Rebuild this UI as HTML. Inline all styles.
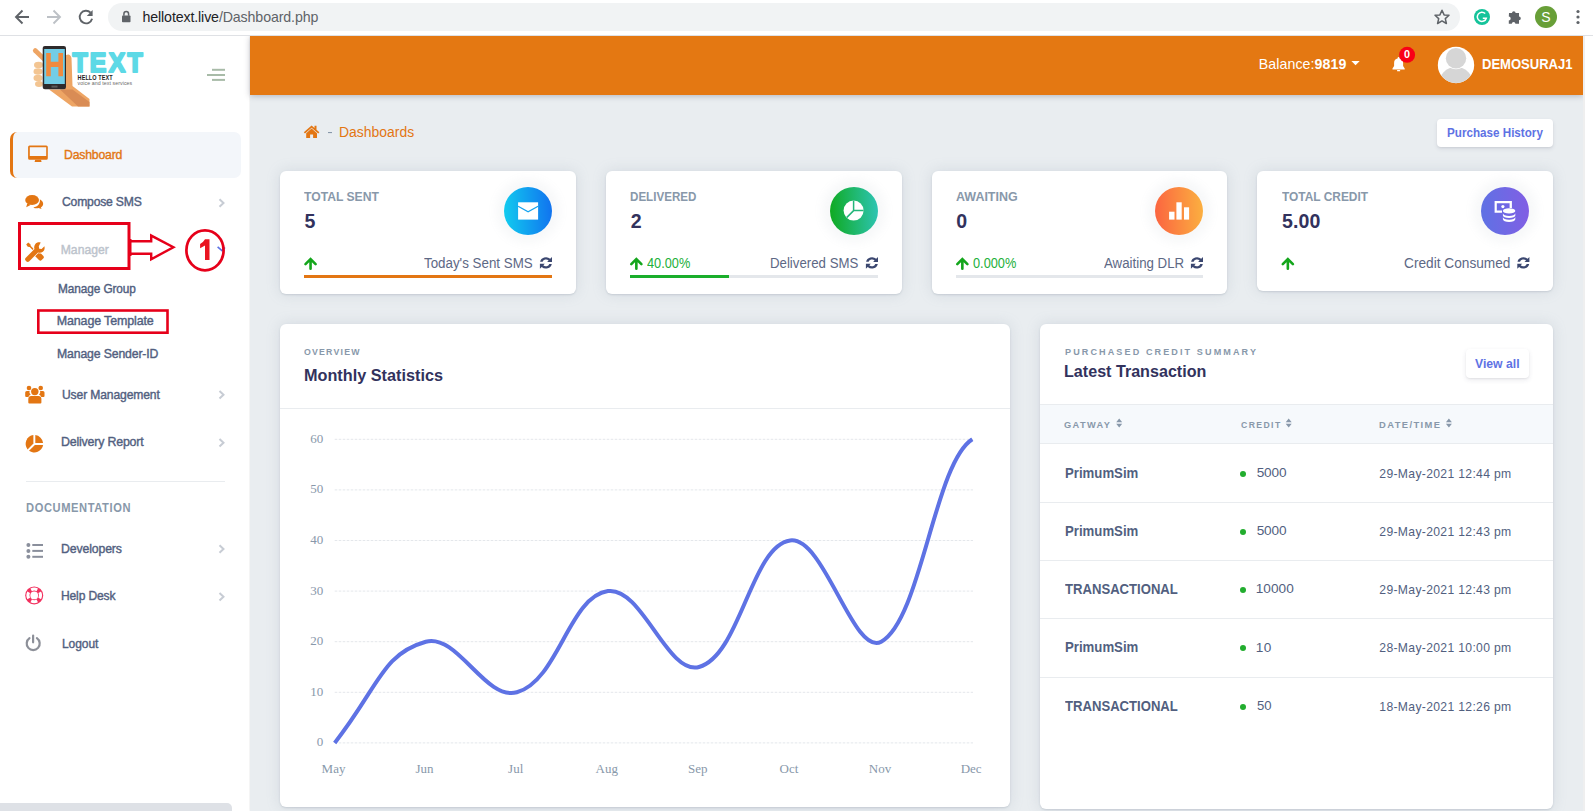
<!DOCTYPE html>
<html><head><meta charset="utf-8">
<style>
html,body{margin:0;padding:0;width:1593px;height:811px;overflow:hidden;background:#fff;}
body{position:relative;font-family:"Liberation Sans",sans-serif;}
.a{position:absolute;}
.tx{position:absolute;white-space:nowrap;font-family:"Liberation Sans",sans-serif;}
.sf{font-family:"Liberation Serif",serif;}
.card{position:absolute;background:#fff;border-radius:6px;box-shadow:0 0 14px rgba(136,152,170,.22),0 1px 2px rgba(80,90,110,.18);}
.icirc{position:absolute;width:48px;height:48px;border-radius:50%;box-shadow:0 0 10px 8px rgba(136,152,170,.07);}
.bar{position:absolute;height:3px;background:#e4e7eb;}
.rline{position:absolute;left:1040px;width:513px;height:1px;background:#e9ecef;}
.dot{position:absolute;width:6px;height:6px;border-radius:50%;background:#22ad2e;}
</style></head><body>
<!-- chrome toolbar -->
<div class="a" style="left:0;top:0;width:1593px;height:36px;z-index:10;">
<div class="a" style="left:0;top:0;width:1593px;height:35px;background:#fff;"></div>
<div class="a" style="left:0;top:35px;width:1593px;height:1px;background:#dfe1e5;"></div>
<div class="a" style="left:108px;top:3px;width:1352px;height:28px;border-radius:14px;background:#f1f3f4;"></div>
<svg class="a" style="left:0;top:0" width="1593" height="35">
  <g fill="none" stroke="#5f6368" stroke-width="1.9" stroke-linecap="butt">
    <path d="M29,17 H16.5 M22.5,10.5 L16,17 L22.5,23.5"/>
  </g>
  <g fill="none" stroke="#bdc1c6" stroke-width="1.9">
    <path d="M47,17 H59.5 M53.5,10.5 L60,17 L53.5,23.5"/>
  </g>
  <path d="M90.6,12.7 A6.3,6.3 0 1 0 92.1,18.7" fill="none" stroke="#5f6368" stroke-width="1.9"/>
  <path d="M92.6,10 V15.9 H86.8 Z" fill="#5f6368"/>
  <rect x="122" y="15.5" width="8.5" height="6.8" rx="0.8" fill="#5f6368"/>
  <path d="M123.9,15.8 V13.9 A2.35,2.35 0 0 1 128.6,13.9 V15.8" fill="none" stroke="#5f6368" stroke-width="1.5"/>
  <path d="M1442,10.3 L1444.1,14.9 L1449,15.3 L1445.3,18.6 L1446.4,23.5 L1442,20.9 L1437.6,23.5 L1438.7,18.6 L1435,15.3 L1439.9,14.9 Z" fill="none" stroke="#5f6368" stroke-width="1.5" stroke-linejoin="round"/>
  <circle cx="1482" cy="17" r="8" fill="#15c39a"/>
  <path d="M1485.2,13.6 A4.6,4.6 0 1 0 1486.3,18.2 H1482.8" fill="none" stroke="#fff" stroke-width="1.5"/>
  <path d="M1509,13 h3 a1.8,1.8 0 0 1 3.6,0 h3.4 v3.6 a1.8,1.8 0 0 1 0,3.6 v3.6 h-3.6 a1.8,1.8 0 0 0 -3.6,0 h-3 v-3.4 a1.8,1.8 0 0 0 0,-3.8 z" fill="#5f6368"/>
  <circle cx="1546" cy="17" r="11" fill="#689f38"/>
  <text x="1546" y="22" text-anchor="middle" font-family="Liberation Sans" font-size="14" fill="#fff">S</text>
  <circle cx="1578" cy="11.5" r="1.6" fill="#5f6368"/><circle cx="1578" cy="17" r="1.6" fill="#5f6368"/><circle cx="1578" cy="22.5" r="1.6" fill="#5f6368"/>
</svg>
<span class="tx" style="left:142.5px;top:8.8px;font-size:14.2px;line-height:16px;letter-spacing:-0.12px;color:#202124">hellotext.live<span style="color:#5f6368">/Dashboard.php</span></span>
</div>

<!-- sidebar -->
<div class="a" style="left:0;top:36px;width:249px;height:775px;background:#fff;box-shadow:1px 0 2px rgba(0,0,0,.06);"></div>
<svg class="a" style="left:0;top:36px" width="249" height="80" viewBox="0 36 249 80">
  <path d="M35.2,50.5 L44,59" stroke="#eea564" stroke-width="4.6" stroke-linecap="round"/>
  <path d="M64,56 Q70,52 71.5,58 L72.5,86 L89.5,99 L89.5,106.5 L72,106.5 L49,89.5 L64,89.5 Z" fill="#eea564"/>
  <path d="M60,89.5 L72.5,89.5 L89.5,102 L89.5,106.5 L78,106.5 Z" fill="#d98c55"/>
  <g fill="#f3c592"><ellipse cx="38.5" cy="65" rx="4.5" ry="3.2"/><ellipse cx="38" cy="71.5" rx="4.5" ry="3.2"/><ellipse cx="38" cy="78" rx="4.5" ry="3.2"/><ellipse cx="39" cy="84" rx="4" ry="3"/></g>
  <rect x="42.7" y="45.9" width="23.3" height="43.3" rx="2.2" fill="#2e2a2b"/>
  <rect x="44.2" y="49" width="20.6" height="35" fill="#73cde6"/>
  <path d="M46.2,53 H50.8 V61.8 H58.4 V53 H63 V76.2 H58.4 V67 H50.8 V76.2 H46.2 Z" fill="#f08a3e"/>
  <rect x="51.5" y="85.6" width="6" height="2" fill="#5a5a5a"/>
  <text x="72.5" y="72.1" font-family="Liberation Sans" font-weight="bold" font-size="27.5" letter-spacing="2.6" fill="#5dd9e6" stroke="#5dd9e6" stroke-width="2.2" stroke-linejoin="round" transform="translate(71.6,0) scale(0.9,1) translate(-71.6,0)">TEXT</text>
  <text x="77.6" y="80" font-family="Liberation Sans" font-weight="bold" font-size="6.5" letter-spacing="0.1" fill="#1d1d1d" transform="translate(77.6,0) scale(0.85,1) translate(-77.6,0)">HELLO TEXT</text>
  <text x="77.6" y="85.2" font-family="Liberation Sans" font-size="5.8" letter-spacing="0.1" fill="#6a6a6a" transform="translate(77.6,0) scale(0.9,1) translate(-77.6,0)">voice and text services</text>
</svg>
<svg class="a" style="left:200px;top:60px" width="32" height="30">
  <g fill="#a8bba8"><rect x="12" y="8.8" width="13" height="2"/><rect x="7" y="14" width="18" height="2"/><rect x="12" y="18.9" width="13" height="2"/></g>
</svg>
<div class="a" style="left:10px;top:132px;width:231px;height:46px;background:#f3f6fa;border-radius:7px;"></div>
<div class="a" style="left:10px;top:132px;width:8px;height:46px;border-left:3px solid #e37613;border-radius:7px 0 0 7px;box-sizing:border-box;"></div>
<svg class="a" style="left:0;top:0" width="249" height="811"><g fill="#e37613"><path d="M28.1,147.1 a1.5,1.5 0 0 1 1.5,-1.5 h16.7 a1.5,1.5 0 0 1 1.5,1.5 v11.2 a1.5,1.5 0 0 1 -1.5,1.5 h-16.7 a1.5,1.5 0 0 1 -1.5,-1.5 z M29.8,147.3 v8.6 h16.4 v-8.6 z" fill-rule="evenodd"/><path d="M35.2,159.8 h5.8 l0.6,2.1 h-7 z"/></g><g fill="#e37613"><ellipse cx="32.1" cy="200" rx="6.9" ry="5.1"/><path d="M27.2,203.5 L26.2,207.2 L31,204.8 Z"/><path d="M39.8,199.3 C42.5,200.8 43.5,202.8 43.1,204.6 C42.8,206 41.9,207 40.8,207.6 L41.6,208.9 L38.5,208 C36.8,208.5 34.7,208.3 33.3,207.4 C37.8,206.8 40.6,203.6 39.8,199.3 Z"/></g><g fill="#e37613">
      <path d="M26.2,244.6 L28.2,242.6 L30.4,244.2 L30.8,246 L37.5,252.7 L36.4,253.8 L29.7,247.1 L27.8,246.8 Z"/>
      <path d="M35.8,253.2 L38.2,250.8 L43.2,255.8 A1.9,1.9 0 0 1 43.2,258.5 L41.7,260 A1.9,1.9 0 0 1 39,260 L34,255 Z"/>
      <path d="M40.7,242.6 C38.6,242 36.5,242.6 35.2,244.2 C34.1,245.6 33.9,247.4 34.5,249 L25.8,257.7 A2.2,2.2 0 0 0 25.8,260.8 L26.2,261.2 A2.2,2.2 0 0 0 29.3,261.2 L38,252.5 C39.6,253.1 41.4,252.9 42.8,251.8 C44.4,250.5 45,248.4 44.4,246.3 L41.6,249.1 L39.2,248.7 L38.8,246.3 Z" stroke="#fff" stroke-width="1.3" paint-order="stroke"/>
    </g><g fill="#e37613">
      <circle cx="34.8" cy="391.6" r="3.7"/>
      <path d="M28.3,399 a3,3 0 0 1 3,-3 h7.1 a3,3 0 0 1 3,3 v3.5 a1,1 0 0 1 -1,1 h-11.1 a1,1 0 0 1 -1,-1 z"/>
      <circle cx="29" cy="388" r="2.3"/><circle cx="40.7" cy="388" r="2.3"/>
      <path d="M25.2,392.6 a1.6,1.6 0 0 1 1.6,-1.6 h2.8 a3.2,3.2 0 0 0 1.1,3.6 a4.4,4.4 0 0 0 -2.3,2.4 h-2.2 a1,1 0 0 1 -1,-1 z"/>
      <path d="M44.5,392.6 a1.6,1.6 0 0 0 -1.6,-1.6 h-2.8 a3.2,3.2 0 0 1 -1.1,3.6 a4.4,4.4 0 0 1 2.3,2.4 h2.2 a1,1 0 0 0 1,-1 z"/>
    </g><g fill="#e37613">
      <path d="M33.4,435.1 V443.6 L27.6,449.4 A8.9,8.9 0 0 1 33.4,435.1 Z"/>
      <path d="M35.3,435.1 A8.9,8.9 0 0 1 43.1,442.9 H35.3 Z"/>
      <path d="M43.1,444.9 A8.9,8.9 0 0 1 29,450.8 L34.9,444.9 Z"/>
    </g><g fill="#8a8f9c"><circle cx="28.4" cy="545" r="2"/><circle cx="28.4" cy="550.9" r="2"/><circle cx="28.4" cy="556.8" r="2"/><rect x="32.3" y="544" width="10.7" height="2"/><rect x="32.3" y="549.9" width="10.7" height="2"/><rect x="32.3" y="555.8" width="10.7" height="2"/></g><circle cx="34.2" cy="595.4" r="9" fill="#f2305e"/><circle cx="34.2" cy="595.4" r="3.9" fill="#fff"/><path d="M41.02,591.62 A7.8,7.8 0 0 1 41.02,599.18 L38.40,597.73 A4.8,4.8 0 0 0 38.40,593.07 Z M37.98,602.22 A7.8,7.8 0 0 1 30.42,602.22 L31.87,599.60 A4.8,4.8 0 0 0 36.53,599.60 Z M27.38,599.18 A7.8,7.8 0 0 1 27.38,591.62 L30.00,593.07 A4.8,4.8 0 0 0 30.00,597.73 Z M30.42,588.58 A7.8,7.8 0 0 1 37.98,588.58 L36.53,591.20 A4.8,4.8 0 0 0 31.87,591.20 Z" fill="#fff"/><g transform="translate(0.6,0)"><path d="M28.9,638.2 A6.5,6.5 0 1 0 36.3,638.2" fill="none" stroke="#8d9099" stroke-width="2.2" stroke-linecap="round"/><line x1="32.5" y1="635.5" x2="32.5" y2="642.3" stroke="#8d9099" stroke-width="2.2" stroke-linecap="round"/></g><path d="M219.5,199.2 L223.5,203 L219.5,206.8" fill="none" stroke="#c7ccd4" stroke-width="2"/><path d="M219.5,390.9 L223.5,394.7 L219.5,398.5" fill="none" stroke="#c7ccd4" stroke-width="2"/><path d="M219.5,438.9 L223.5,442.7 L219.5,446.5" fill="none" stroke="#c7ccd4" stroke-width="2"/><path d="M219.5,545.2 L223.5,549 L219.5,552.8" fill="none" stroke="#c7ccd4" stroke-width="2"/><path d="M219.5,592.9000000000001 L223.5,596.7 L219.5,600.5" fill="none" stroke="#c7ccd4" stroke-width="2"/><path d="M217.6,246.8 L222,250.6 L225,247.5" fill="none" stroke="#5e72e4" stroke-width="1.6"/></svg>
<div class="a" style="left:26px;top:481px;width:199px;height:1px;background:#e9ecef;"></div>

<!-- header -->
<div class="a" style="left:250px;top:36px;width:1333px;height:775px;background:#e9edf0;"></div>

<div class="a" style="left:250px;top:36px;width:1333px;height:59px;background:#e47812;box-shadow:0 1px 6px rgba(40,40,60,.28);"></div>
<!-- main bg -->

<div class="a" style="left:1583px;top:36px;width:10px;height:775px;background:#fff;border-left:2px solid #efefef;box-sizing:border-box;"></div>
<svg class="a" style="left:0;top:0" width="1593" height="100"><path d="M1351.4,61 H1359.7 L1355.55,65.3 Z" fill="#fff"/><path d="M1398.6,57 a1,1 0 0 1 1,1 v0.6 a4.3,4.3 0 0 1 3.5,4.3 v3.2 l1.6,2.3 v1 h-12.2 v-1 l1.6,-2.3 v-3.2 a4.3,4.3 0 0 1 3.5,-4.3 v-0.6 a1,1 0 0 1 1,-1 z" fill="#fff"/><rect x="1397" y="70" width="3.2" height="1.3" rx="0.6" fill="#fff"/><circle cx="1407.1" cy="54.8" r="8" fill="#f90016"/><text x="1407.1" y="58.1" text-anchor="middle" font-family="Liberation Sans" font-weight="bold" font-size="10.8" fill="#fff">0</text><defs><clipPath id="av"><circle cx="1456" cy="65" r="18"/></clipPath></defs><circle cx="1456" cy="65" r="18.2" fill="#fff"/><g clip-path="url(#av)"><ellipse cx="1456" cy="84.5" rx="17.5" ry="17.5" fill="#d6d6d6"/><circle cx="1456" cy="58.2" r="10.2" fill="#d6d6d6" stroke="#fff" stroke-width="1.6" paint-order="stroke"/></g></svg>
<svg class="a" style="left:300px;top:120px" width="40" height="22">
  <path d="M11.6,5.5 L3.8,12.3 L5,13.6 L11.6,7.8 L18.2,13.6 L19.4,12.3 L16.5,9.8 V5.8 H14.5 V8 Z" fill="#e37613"/>
  <path d="M6.2,13.3 L11.6,8.6 L17,13.3 V18 H13.1 V14.6 H10.1 V18 H6.2 Z" fill="#e37613"/>
  <rect x="28" y="12" width="4" height="1.1" fill="#8898aa"/>
</svg>

<!-- cards -->
<div class="card" style="left:280px;top:171px;width:296px;height:123px;"></div>
<div class="card" style="left:606px;top:171px;width:296px;height:123px;"></div>
<div class="card" style="left:932px;top:171px;width:295px;height:123px;"></div>
<div class="card" style="left:1257px;top:171px;width:296px;height:120px;"></div>
<div class="a" style="left:1437px;top:119px;width:116px;height:28px;background:#fff;border-radius:4px;box-shadow:0 2px 4px rgba(50,50,93,.1),0 1px 2px rgba(0,0,0,.06);"></div>

<div class="icirc" style="left:504px;top:187px;background:linear-gradient(87deg,#11cdef 0,#1171ef 100%);"></div>
<div class="icirc" style="left:830px;top:187px;background:linear-gradient(87deg,#0fa91e 0,#2ec5b6 100%);"></div>
<div class="icirc" style="left:1155px;top:187px;background:linear-gradient(87deg,#fb6340 0,#fbb140 100%);"></div>
<div class="icirc" style="left:1481px;top:187px;background:linear-gradient(87deg,#5e72e4 0,#825ee4 100%);"></div>

<div class="bar" style="left:304px;top:275px;width:248px;background:#e37613"></div>
<div class="bar" style="left:630px;top:275px;width:248px;"></div>
<div class="bar" style="left:630px;top:275px;width:99px;background:#1aae2b"></div>
<div class="bar" style="left:956px;top:275px;width:247px;"></div>
<svg class="a" style="left:0;top:0" width="1593" height="300"><rect x="518.1" y="202.3" width="20" height="17.3" fill="#fff"/><path d="M518.1,206.3 L528.1,211.8 L538.1,206.3" fill="none" stroke="#15a3ef" stroke-width="1.3"/><circle cx="853.6" cy="210.6" r="10" fill="#fff"/><path d="M853.6,200.6 V210.6 H863.6 M853.6,210.6 L846.6,217.6" fill="none" stroke="#23b67a" stroke-width="1.5"/><g fill="#fff"><rect x="1169.1" y="211.7" width="5.4" height="7.9"/><rect x="1176.4" y="202.3" width="5.3" height="17.3"/><rect x="1184" y="207.3" width="5.1" height="12.3"/></g><path d="M1494.6,201.1 H1511.9 V208 H1509.6 V203.3 H1496.8 V210.5 H1502 V212.7 H1494.6 Z" fill="#fff"/><circle cx="1502.9" cy="206.6" r="1.6" fill="#fff"/><g fill="#fff"><ellipse cx="1509.1" cy="210.9" rx="6.2" ry="2.6"/><path d="M1502.9,213.3 a6.2,2.6 0 0 0 12.4,0 v2.2 a6.2,2.6 0 0 1 -12.4,0 z"/><path d="M1502.9,217.1 a6.2,2.6 0 0 0 12.4,0 v2.2 a6.2,2.6 0 0 1 -12.4,0 z"/></g><path d="M305.5,264.2 L310.55,259.1 L315.59999999999997,264.2 M310.55,259.3 V268.8" fill="none" stroke="#14a61c" stroke-width="2.6" stroke-linecap="round" stroke-linejoin="miter"/><path d="M631.3,264.2 L636.35,259.1 L641.4,264.2 M636.35,259.3 V268.8" fill="none" stroke="#14a61c" stroke-width="2.6" stroke-linecap="round" stroke-linejoin="miter"/><path d="M957.3,264.2 L962.35,259.1 L967.4,264.2 M962.35,259.3 V268.8" fill="none" stroke="#14a61c" stroke-width="2.6" stroke-linecap="round" stroke-linejoin="miter"/><path d="M1282.8,264.2 L1287.85,259.1 L1292.9,264.2 M1287.85,259.3 V268.8" fill="none" stroke="#14a61c" stroke-width="2.6" stroke-linecap="round" stroke-linejoin="miter"/><g transform="translate(539.9,256.9)" fill="#3b4770"><path d="M0.2,4.9 A6,5.6 0 0 1 10.3,1.9 L12.1,0.1 V5 H7.2 L8.7,3.5 A3.6,3.4 0 0 0 2.7,4.9 Z"/><path d="M0.2,4.9 A6,5.6 0 0 1 10.3,1.9 L12.1,0.1 V5 H7.2 L8.7,3.5 A3.6,3.4 0 0 0 2.7,4.9 Z" transform="rotate(180 6.05 5.95)"/></g><g transform="translate(865.9,256.9)" fill="#3b4770"><path d="M0.2,4.9 A6,5.6 0 0 1 10.3,1.9 L12.1,0.1 V5 H7.2 L8.7,3.5 A3.6,3.4 0 0 0 2.7,4.9 Z"/><path d="M0.2,4.9 A6,5.6 0 0 1 10.3,1.9 L12.1,0.1 V5 H7.2 L8.7,3.5 A3.6,3.4 0 0 0 2.7,4.9 Z" transform="rotate(180 6.05 5.95)"/></g><g transform="translate(1190.9,256.9)" fill="#3b4770"><path d="M0.2,4.9 A6,5.6 0 0 1 10.3,1.9 L12.1,0.1 V5 H7.2 L8.7,3.5 A3.6,3.4 0 0 0 2.7,4.9 Z"/><path d="M0.2,4.9 A6,5.6 0 0 1 10.3,1.9 L12.1,0.1 V5 H7.2 L8.7,3.5 A3.6,3.4 0 0 0 2.7,4.9 Z" transform="rotate(180 6.05 5.95)"/></g><g transform="translate(1517.3000000000002,256.9)" fill="#3b4770"><path d="M0.2,4.9 A6,5.6 0 0 1 10.3,1.9 L12.1,0.1 V5 H7.2 L8.7,3.5 A3.6,3.4 0 0 0 2.7,4.9 Z"/><path d="M0.2,4.9 A6,5.6 0 0 1 10.3,1.9 L12.1,0.1 V5 H7.2 L8.7,3.5 A3.6,3.4 0 0 0 2.7,4.9 Z" transform="rotate(180 6.05 5.95)"/></g></svg>

<!-- chart card -->
<div class="card" style="left:280px;top:324px;width:730px;height:483px;"></div>
<div class="a" style="left:280px;top:408px;width:730px;height:1px;background:#e9ecef;"></div>
<svg class="a" style="left:0;top:0" width="1593" height="811">
<line x1="334.7" y1="742.9" x2="973" y2="742.9" stroke="#e4e7eb" stroke-width="1" stroke-dasharray="2.6,1.4"/>
<text x="323.3" y="746.3" text-anchor="end" font-family="Liberation Serif" font-size="13" fill="#8898aa">0</text>
<line x1="334.7" y1="692.3" x2="973" y2="692.3" stroke="#e4e7eb" stroke-width="1" stroke-dasharray="2.6,1.4"/>
<text x="323.3" y="695.7" text-anchor="end" font-family="Liberation Serif" font-size="13" fill="#8898aa">10</text>
<line x1="334.7" y1="641.7" x2="973" y2="641.7" stroke="#e4e7eb" stroke-width="1" stroke-dasharray="2.6,1.4"/>
<text x="323.3" y="645.1" text-anchor="end" font-family="Liberation Serif" font-size="13" fill="#8898aa">20</text>
<line x1="334.7" y1="591.1" x2="973" y2="591.1" stroke="#e4e7eb" stroke-width="1" stroke-dasharray="2.6,1.4"/>
<text x="323.3" y="594.5" text-anchor="end" font-family="Liberation Serif" font-size="13" fill="#8898aa">30</text>
<line x1="334.7" y1="540.5" x2="973" y2="540.5" stroke="#e4e7eb" stroke-width="1" stroke-dasharray="2.6,1.4"/>
<text x="323.3" y="543.9" text-anchor="end" font-family="Liberation Serif" font-size="13" fill="#8898aa">40</text>
<line x1="334.7" y1="489.9" x2="973" y2="489.9" stroke="#e4e7eb" stroke-width="1" stroke-dasharray="2.6,1.4"/>
<text x="323.3" y="493.3" text-anchor="end" font-family="Liberation Serif" font-size="13" fill="#8898aa">50</text>
<line x1="334.7" y1="439.3" x2="973" y2="439.3" stroke="#e4e7eb" stroke-width="1" stroke-dasharray="2.6,1.4"/>
<text x="323.3" y="442.7" text-anchor="end" font-family="Liberation Serif" font-size="13" fill="#8898aa">60</text>
<text x="333.5" y="773" text-anchor="middle" font-family="Liberation Serif" font-size="13" fill="#8898aa">May</text>
<text x="424.6" y="773" text-anchor="middle" font-family="Liberation Serif" font-size="13" fill="#8898aa">Jun</text>
<text x="515.7" y="773" text-anchor="middle" font-family="Liberation Serif" font-size="13" fill="#8898aa">Jul</text>
<text x="606.8" y="773" text-anchor="middle" font-family="Liberation Serif" font-size="13" fill="#8898aa">Aug</text>
<text x="697.8" y="773" text-anchor="middle" font-family="Liberation Serif" font-size="13" fill="#8898aa">Sep</text>
<text x="788.9" y="773" text-anchor="middle" font-family="Liberation Serif" font-size="13" fill="#8898aa">Oct</text>
<text x="880.0" y="773" text-anchor="middle" font-family="Liberation Serif" font-size="13" fill="#8898aa">Nov</text>
<text x="971.1" y="773" text-anchor="middle" font-family="Liberation Serif" font-size="13" fill="#8898aa">Dec</text>
<defs><clipPath id="ca"><rect x="332.7" y="437.3" width="641.6" height="307.6"/></clipPath></defs>
<path d="M334.70,742.90 C378.70,686.90 382.07,653.84 425.79,641.70 C457.38,632.93 485.28,701.07 516.87,692.30 C558.15,680.83 569.01,596.51 607.96,591.10 C641.88,586.39 667.56,675.74 699.04,667.00 C740.43,655.50 751.23,545.90 790.13,540.50 C824.10,535.78 853.51,657.09 881.21,641.70 C921.28,619.44 934.30,463.30 972.30,439.30" fill="none" stroke="#5e72e4" stroke-width="4" stroke-linecap="butt" stroke-linejoin="round" clip-path="url(#ca)"/>
</svg>

<!-- transaction card -->
<div class="card" style="left:1040px;top:324px;width:513px;height:485px;"></div>
<div class="a" style="left:1466px;top:349px;width:63px;height:29px;background:#fff;border-radius:4px;box-shadow:0 2px 5px rgba(50,50,93,.1),0 1px 2px rgba(0,0,0,.06);"></div>
<div class="a" style="left:1040px;top:404px;width:513px;height:40px;background:#f6f9fc;border-top:1px solid #e9ecef;border-bottom:1px solid #e9ecef;box-sizing:border-box;"></div>
<div class="rline" style="top:502px"></div>
<div class="rline" style="top:560px"></div>
<div class="rline" style="top:618px"></div>
<div class="rline" style="top:677px"></div>
<div class="dot" style="left:1240px;top:471px"></div>
<div class="dot" style="left:1240px;top:529px"></div>
<div class="dot" style="left:1240px;top:587px"></div>
<div class="dot" style="left:1240px;top:645px"></div>
<div class="dot" style="left:1240px;top:704px"></div>
<svg class="a" style="left:0;top:0" width="1593" height="460"><path d="M1116.2,422.3 L1119.2,418.6 L1122.2,422.3 Z M1116.2,423.8 L1119.2,427.6 L1122.2,423.8 Z" fill="#8898aa"/><path d="M1285.7,422.3 L1288.7,418.6 L1291.7,422.3 Z M1285.7,423.8 L1288.7,427.6 L1291.7,423.8 Z" fill="#8898aa"/><path d="M1445.9,422.3 L1448.9,418.6 L1451.9,422.3 Z M1445.9,423.8 L1448.9,427.6 L1451.9,423.8 Z" fill="#8898aa"/></svg>

<span class="tx" style="left:63.74px;top:148.77px;font-size:12.75px;line-height:12.75px;letter-spacing:-0.207px;font-weight:normal;color:#e37613;-webkit-text-stroke:0.4px #e37613;transform:scaleX(0.9610);transform-origin:0 0;">Dashboard</span>
<span class="tx" style="left:61.70px;top:196.13px;font-size:12.61px;line-height:12.61px;letter-spacing:-0.207px;font-weight:normal;color:#525f7f;-webkit-text-stroke:0.4px #525f7f;transform:scaleX(0.9645);transform-origin:0 0;">Compose SMS</span>
<span class="tx" style="left:60.70px;top:244.25px;font-size:12.17px;line-height:12.17px;letter-spacing:0.028px;font-weight:normal;color:#bcc3cc;-webkit-text-stroke:0.4px #bcc3cc;">Manager</span>
<span class="tx" style="left:57.80px;top:282.68px;font-size:12.03px;line-height:12.03px;letter-spacing:-0.084px;font-weight:normal;color:#525f7f;-webkit-text-stroke:0.4px #525f7f;transform:scaleX(0.9831);transform-origin:0 0;">Manage Group</span>
<span class="tx" style="left:56.80px;top:315.11px;font-size:12.46px;line-height:12.46px;letter-spacing:-0.133px;font-weight:normal;color:#525f7f;-webkit-text-stroke:0.4px #525f7f;">Manage Template</span>
<span class="tx" style="left:56.83px;top:348.32px;font-size:12.61px;line-height:12.61px;letter-spacing:-0.140px;font-weight:normal;color:#525f7f;-webkit-text-stroke:0.4px #525f7f;transform:scaleX(0.9709);transform-origin:0 0;">Manage Sender-ID</span>
<span class="tx" style="left:62.00px;top:388.73px;font-size:12.46px;line-height:12.46px;letter-spacing:-0.137px;font-weight:normal;color:#525f7f;-webkit-text-stroke:0.4px #525f7f;transform:scaleX(0.9727);transform-origin:0 0;">User Management</span>
<span class="tx" style="left:61.05px;top:434.81px;font-size:13.04px;line-height:13.04px;letter-spacing:-0.212px;font-weight:normal;color:#525f7f;-webkit-text-stroke:0.4px #525f7f;transform:scaleX(0.9524);transform-origin:0 0;">Delivery Report</span>
<span class="tx" style="left:26.00px;top:501.77px;font-size:12.75px;line-height:12.75px;letter-spacing:0.687px;font-weight:bold;color:#8898aa;transform:scaleX(0.8730);transform-origin:0 0;">DOCUMENTATION</span>
<span class="tx" style="left:61.03px;top:542.94px;font-size:12.61px;line-height:12.61px;letter-spacing:-0.128px;font-weight:normal;color:#525f7f;-webkit-text-stroke:0.4px #525f7f;transform:scaleX(0.9730);transform-origin:0 0;">Developers</span>
<span class="tx" style="left:61.03px;top:590.30px;font-size:12.46px;line-height:12.46px;letter-spacing:-0.156px;font-weight:normal;color:#525f7f;-webkit-text-stroke:0.4px #525f7f;transform:scaleX(0.9684);transform-origin:0 0;">Help Desk</span>
<span class="tx" style="left:62.00px;top:638.04px;font-size:12.03px;line-height:12.03px;letter-spacing:-0.083px;font-weight:normal;color:#525f7f;-webkit-text-stroke:0.4px #525f7f;">Logout</span>
<span class="tx" style="left:1258.80px;top:56.73px;font-size:14.20px;line-height:14.20px;letter-spacing:0.061px;font-weight:normal;color:#fff;">Balance:</span>
<span class="tx" style="left:1314.60px;top:56.73px;font-size:14.20px;line-height:14.20px;letter-spacing:0.110px;font-weight:bold;color:#fff;">9819</span>
<span class="tx" style="left:1482.00px;top:57.20px;font-size:14.49px;line-height:14.49px;letter-spacing:0.000px;font-weight:bold;color:#fff;transform:scaleX(0.8991);transform-origin:0 0;">DEMOSURAJ1</span>
<span class="tx" style="left:339.38px;top:123.99px;font-size:15.07px;line-height:15.07px;letter-spacing:0.000px;font-weight:normal;color:#e37613;transform:scaleX(0.9249);transform-origin:0 0;">Dashboards</span>
<span class="tx" style="left:1446.50px;top:127.39px;font-size:12.75px;line-height:12.75px;letter-spacing:0.000px;font-weight:bold;color:#5e72e4;transform:scaleX(0.9141);transform-origin:0 0;">Purchase History</span>
<span class="tx" style="left:304.00px;top:189.89px;font-size:13.19px;line-height:13.19px;letter-spacing:0.000px;font-weight:bold;color:#8898aa;transform:scaleX(0.9211);transform-origin:0 0;">TOTAL SENT</span>
<span class="tx" style="left:304.50px;top:212.35px;font-size:19.57px;line-height:19.57px;letter-spacing:0.000px;font-weight:bold;color:#32325d;">5</span>
<span class="tx" style="left:424.10px;top:256.27px;font-size:14.93px;line-height:14.93px;letter-spacing:0.000px;font-weight:normal;color:#5d6885;transform:scaleX(0.8947);transform-origin:0 0;">Today's Sent SMS</span>
<span class="tx" style="left:630.20px;top:189.89px;font-size:13.19px;line-height:13.19px;letter-spacing:0.000px;font-weight:bold;color:#8898aa;transform:scaleX(0.8802);transform-origin:0 0;">DELIVERED</span>
<span class="tx" style="left:630.70px;top:212.35px;font-size:19.57px;line-height:19.57px;letter-spacing:0.000px;font-weight:bold;color:#32325d;">2</span>
<span class="tx" style="left:647.00px;top:255.58px;font-size:14.49px;line-height:14.49px;letter-spacing:0.000px;font-weight:normal;color:#22b03a;transform:scaleX(0.8813);transform-origin:0 0;">40.00%</span>
<span class="tx" style="left:770.41px;top:256.27px;font-size:14.93px;line-height:14.93px;letter-spacing:0.000px;font-weight:normal;color:#5d6885;transform:scaleX(0.8876);transform-origin:0 0;">Delivered SMS</span>
<span class="tx" style="left:955.80px;top:189.89px;font-size:13.19px;line-height:13.19px;letter-spacing:0.000px;font-weight:bold;color:#8898aa;transform:scaleX(0.9448);transform-origin:0 0;">AWAITING</span>
<span class="tx" style="left:956.30px;top:212.35px;font-size:19.57px;line-height:19.57px;letter-spacing:0.000px;font-weight:bold;color:#32325d;">0</span>
<span class="tx" style="left:972.60px;top:255.58px;font-size:14.49px;line-height:14.49px;letter-spacing:0.000px;font-weight:normal;color:#22b03a;transform:scaleX(0.8813);transform-origin:0 0;">0.000%</span>
<span class="tx" style="left:1103.50px;top:256.27px;font-size:14.93px;line-height:14.93px;letter-spacing:0.000px;font-weight:normal;color:#5d6885;transform:scaleX(0.8885);transform-origin:0 0;">Awaiting DLR</span>
<span class="tx" style="left:1281.50px;top:189.89px;font-size:13.19px;line-height:13.19px;letter-spacing:0.000px;font-weight:bold;color:#8898aa;transform:scaleX(0.9033);transform-origin:0 0;">TOTAL CREDIT</span>
<span class="tx" style="left:1282.00px;top:212.35px;font-size:19.57px;line-height:19.57px;letter-spacing:0.142px;font-weight:bold;color:#32325d;">5.00</span>
<span class="tx" style="left:1404.00px;top:256.27px;font-size:14.93px;line-height:14.93px;letter-spacing:0.000px;font-weight:normal;color:#5d6885;transform:scaleX(0.9170);transform-origin:0 0;">Credit Consumed</span>
<span class="tx" style="left:304.20px;top:346.52px;font-size:9.86px;line-height:9.86px;letter-spacing:1.348px;font-weight:bold;color:#8898aa;transform:scaleX(0.8902);transform-origin:0 0;">OVERVIEW</span>
<span class="tx" style="left:303.54px;top:368.33px;font-size:16.96px;line-height:16.96px;letter-spacing:0.000px;font-weight:bold;color:#32325d;transform:scaleX(0.9588);transform-origin:0 0;">Monthly Statistics</span>
<span class="tx" style="left:1064.80px;top:346.67px;font-size:9.57px;line-height:9.57px;letter-spacing:2.216px;font-weight:bold;color:#8898aa;transform:scaleX(0.9476);transform-origin:0 0;">PURCHASED CREDIT SUMMARY</span>
<span class="tx" style="left:1063.87px;top:363.29px;font-size:17.25px;line-height:17.25px;letter-spacing:0.000px;font-weight:bold;color:#32325d;transform:scaleX(0.9340);transform-origin:0 0;">Latest Transaction</span>
<span class="tx" style="left:1475.10px;top:356.99px;font-size:13.19px;line-height:13.19px;letter-spacing:0.000px;font-weight:bold;color:#5e72e4;transform:scaleX(0.9257);transform-origin:0 0;">View all</span>
<span class="tx" style="left:1064.10px;top:419.62px;font-size:9.86px;line-height:9.86px;letter-spacing:1.492px;font-weight:bold;color:#8898aa;transform:scaleX(0.9381);transform-origin:0 0;">GATWAY</span>
<span class="tx" style="left:1241.00px;top:419.62px;font-size:9.86px;line-height:9.86px;letter-spacing:1.592px;font-weight:bold;color:#8898aa;transform:scaleX(0.8791);transform-origin:0 0;">CREDIT</span>
<span class="tx" style="left:1379.30px;top:419.62px;font-size:9.86px;line-height:9.86px;letter-spacing:1.471px;font-weight:bold;color:#8898aa;transform:scaleX(0.9517);transform-origin:0 0;">DATE/TIME</span>
<span class="tx" style="left:1064.70px;top:466.24px;font-size:14.78px;line-height:14.78px;letter-spacing:0.000px;font-weight:bold;color:#525f7f;transform:scaleX(0.8935);transform-origin:0 0;">PrimumSim</span>
<span class="tx" style="left:1256.70px;top:466.02px;font-size:13.62px;line-height:13.62px;letter-spacing:-0.136px;font-weight:normal;color:#525f7f;">5000</span>
<span class="tx" style="left:1379.30px;top:468.44px;font-size:12.17px;line-height:12.17px;letter-spacing:0.328px;font-weight:normal;color:#525f7f;">29-May-2021 12:44 pm</span>
<span class="tx" style="left:1064.70px;top:524.24px;font-size:14.78px;line-height:14.78px;letter-spacing:0.000px;font-weight:bold;color:#525f7f;transform:scaleX(0.8935);transform-origin:0 0;">PrimumSim</span>
<span class="tx" style="left:1256.70px;top:524.02px;font-size:13.62px;line-height:13.62px;letter-spacing:-0.136px;font-weight:normal;color:#525f7f;">5000</span>
<span class="tx" style="left:1379.30px;top:526.44px;font-size:12.17px;line-height:12.17px;letter-spacing:0.328px;font-weight:normal;color:#525f7f;">29-May-2021 12:43 pm</span>
<span class="tx" style="left:1064.70px;top:582.24px;font-size:14.78px;line-height:14.78px;letter-spacing:0.000px;font-weight:bold;color:#525f7f;transform:scaleX(0.8874);transform-origin:0 0;">TRANSACTIONAL</span>
<span class="tx" style="left:1255.70px;top:582.02px;font-size:13.62px;line-height:13.62px;letter-spacing:0.056px;font-weight:normal;color:#525f7f;">10000</span>
<span class="tx" style="left:1379.30px;top:584.44px;font-size:12.17px;line-height:12.17px;letter-spacing:0.328px;font-weight:normal;color:#525f7f;">29-May-2021 12:43 pm</span>
<span class="tx" style="left:1064.70px;top:639.73px;font-size:14.78px;line-height:14.78px;letter-spacing:0.000px;font-weight:bold;color:#525f7f;transform:scaleX(0.8935);transform-origin:0 0;">PrimumSim</span>
<span class="tx" style="left:1255.70px;top:640.95px;font-size:13.62px;line-height:13.62px;letter-spacing:0.431px;font-weight:normal;color:#525f7f;">10</span>
<span class="tx" style="left:1379.30px;top:641.75px;font-size:12.17px;line-height:12.17px;letter-spacing:0.328px;font-weight:normal;color:#525f7f;">28-May-2021 10:00 pm</span>
<span class="tx" style="left:1064.70px;top:699.05px;font-size:14.78px;line-height:14.78px;letter-spacing:0.000px;font-weight:bold;color:#525f7f;transform:scaleX(0.8874);transform-origin:0 0;">TRANSACTIONAL</span>
<span class="tx" style="left:1256.70px;top:698.92px;font-size:13.62px;line-height:13.62px;letter-spacing:0.000px;font-weight:normal;color:#525f7f;transform:scaleX(0.9635);transform-origin:0 0;">50</span>
<span class="tx" style="left:1379.30px;top:701.25px;font-size:12.17px;line-height:12.17px;letter-spacing:0.328px;font-weight:normal;color:#525f7f;">18-May-2021 12:26 pm</span>

<!-- annotations -->
<svg class="a" style="left:0;top:0" width="260" height="340"><rect x="19.5" y="223.5" width="109.5" height="45" fill="none" stroke="#e6001a" stroke-width="3"/><path d="M128.6,241.3 H151.2 V235.6 L173.4,247.3 L151.2,259.2 V253.8 H128.6" fill="#fff" stroke="#e6001a" stroke-width="2.4"/><rect x="128" y="239" width="3.5" height="17" fill="#e6001a"/><ellipse cx="205" cy="250.3" rx="18.6" ry="20" fill="none" stroke="#e6001a" stroke-width="2.7"/><path d="M205,239.2 H209.5 V260 H205 V245.6 L200.1,248.3 V244 Q203.5,242 205,239.2 Z" fill="#ea1420"/><rect x="38.3" y="310.5" width="129.2" height="22.2" fill="none" stroke="#e6001a" stroke-width="2.6"/></svg>

<!-- status bar -->
<div class="a" style="left:0;top:803px;width:232px;height:8px;background:#dee1e6;border-radius:0 5px 0 0;"></div>
</body></html>
